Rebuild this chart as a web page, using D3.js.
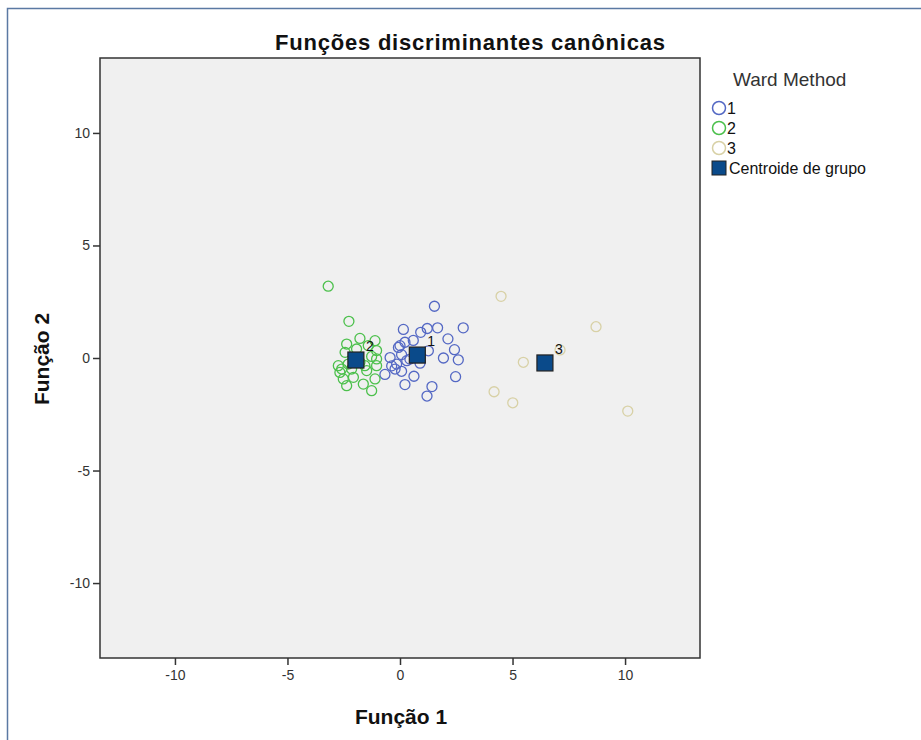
<!DOCTYPE html>
<html>
<head>
<meta charset="utf-8">
<script src="https://cdn.jsdelivr.net/npm/d3@7"></script>
<style>
  body { margin: 0; background: #fff; }
  svg { display: block; font-family: "Liberation Sans", Arial, sans-serif; }
</style>
</head>
<body>
<div id="chart"></div>
<script>
// pontos (Função 1, Função 2)
const grupo1 = [
  [1.53, 2.30], [2.81, 1.34], [0.15, 1.27], [0.92, 1.14], [1.21, 1.31], [1.67, 1.34],
  [2.13, 0.85], [2.42, 0.37], [2.59, -0.08], [1.93, 0.0], [2.47, -0.83], [1.42, -1.27],
  [1.20, -1.69], [0.22, -1.18], [0.62, -0.81], [-0.67, -0.73], [-0.44, 0.02], [0.0, 0.55],
  [0.22, 0.70], [0.59, 0.78], [-0.07, 0.47], [0.07, 0.15], [-0.15, -0.27], [0.30, -0.12],
  [-0.22, -0.49], [0.07, -0.59], [-0.37, -0.35], [1.26, 0.32], [0.89, -0.23], [0.44, -0.05]
];
const grupo2 = [
  [-3.19, 3.19], [-2.27, 1.63], [-1.78, 0.87], [-1.11, 0.77], [-2.37, 0.62], [-1.04, 0.33],
  [-2.44, 0.25], [-1.26, 0.07], [-2.74, -0.34], [-1.04, -0.34], [-2.67, -0.64], [-2.15, -0.49],
  [-1.48, -0.56], [-2.52, -0.93], [-2.07, -0.86], [-1.63, -1.16], [-1.11, -0.93], [-2.37, -1.23],
  [-1.26, -1.45], [-2.59, -0.49], [-1.78, -0.19], [-1.41, 0.55], [-1.04, -0.04], [-1.93, 0.40],
  [-2.30, -0.27], [-1.56, -0.34]
];
const grupo3 = [
  [4.49, 2.74], [8.71, 1.39], [5.48, -0.19], [4.18, -1.50], [5.01, -1.99], [10.12, -2.36], [7.11, 0.36]
];
const centroides = [[0.77, 0.13], [-1.96, -0.09], [6.44, -0.22]];
const centroideLabels = ["1", "2", "3"];
const grupos = ["1", "2", "3"];
const ticks = [-10, -5, 0, 5, 10];

const cores = ["#5468c4", "#4cc04c", "#d8d1a6"];

const W = 921, H = 740;
const margin = {left: 100, top: 58};
const size = 600;

const svg = d3.select("#chart").append("svg")
  .attr("width", W).attr("height", H);

// moldura
svg.append("path")
  .attr("d", `M7.5,${H} V8.5 H${W}`)
  .attr("fill", "none").attr("stroke", "#5b79a3").attr("stroke-width", 1.5);

const x = d3.scaleLinear().domain([-13.33, 13.33]).range([margin.left, margin.left + size]);
const y = d3.scaleLinear().domain([-13.33, 13.33]).range([margin.top + size, margin.top]);

svg.append("rect")
  .attr("x", margin.left).attr("y", margin.top)
  .attr("width", size).attr("height", size)
  .attr("fill", "#f0f0f0").attr("stroke", "#333").attr("stroke-width", 1.5);

const fmt = d => String(d);
const xAxis = svg.append("g")
  .attr("transform", `translate(0,${margin.top + size})`)
  .call(d3.axisBottom(x).tickValues(ticks).tickFormat(fmt).tickSize(7).tickPadding(5));
const yAxis = svg.append("g")
  .attr("transform", `translate(${margin.left},0)`)
  .call(d3.axisLeft(y).tickValues(ticks).tickFormat(fmt).tickSize(7).tickPadding(3));

[xAxis, yAxis].forEach(a => {
  a.select(".domain").remove();
  a.selectAll("line").attr("stroke", "#333").attr("stroke-width", 1.5);
  a.selectAll("text").attr("fill", "#333").style("font-size", "14px")
    .style("font-family", "'Liberation Sans', Arial, sans-serif");
});

// pontos
[grupo1, grupo2, grupo3].forEach((g, i) => {
  svg.append("g").selectAll("circle")
    .data(g)
    .join("circle")
      .attr("cx", d => x(d[0]))
      .attr("cy", d => y(d[1]))
      .attr("r", 5)
      .attr("fill", "none")
      .attr("stroke", cores[i])
      .attr("stroke-width", 1.3);
});

// centroides
svg.append("g").selectAll("rect")
  .data(centroides)
  .join("rect")
    .attr("x", d => x(d[0]) - 8)
    .attr("y", d => y(d[1]) - 8)
    .attr("width", 16).attr("height", 16)
    .attr("fill", "#0a4a8a")
    .attr("stroke", "#222").attr("stroke-width", 1.2);

svg.append("g").selectAll("text")
  .data(centroides)
  .join("text")
    .attr("x", d => x(d[0]) + 10)
    .attr("y", d => y(d[1]) - 9)
    .attr("font-size", 14).attr("fill", "#111")
    .text((d, i) => centroideLabels[i]);

// títulos
svg.append("text")
  .attr("x", 470).attr("y", 50)
  .attr("text-anchor", "middle")
  .attr("font-size", 22).attr("font-weight", "bold").attr("fill", "#111")
  .attr("textLength", 390).attr("lengthAdjust", "spacing")
  .text("Funções discriminantes canônicas");

svg.append("text")
  .attr("x", 401).attr("y", 724)
  .attr("text-anchor", "middle")
  .attr("font-size", 21).attr("font-weight", "bold").attr("fill", "#111")
  .text("Função 1");

svg.append("text")
  .attr("transform", "translate(49,359) rotate(-90)")
  .attr("text-anchor", "middle")
  .attr("font-size", 21).attr("font-weight", "bold").attr("fill", "#111")
  .text("Função 2");

// legenda
const leg = svg.append("g");
leg.append("text")
  .attr("x", 733).attr("y", 86)
  .attr("font-size", 19).attr("fill", "#333")
  .text("Ward Method");

grupos.forEach((g, i) => {
  const cy = 108 + i * 20;
  leg.append("circle")
    .attr("cx", 719).attr("cy", cy).attr("r", 6.5)
    .attr("fill", "none").attr("stroke", cores[i]).attr("stroke-width", 1.5);
  leg.append("text")
    .attr("x", 727).attr("y", cy + 6)
    .attr("font-size", 16).attr("fill", "#111")
    .text(g);
});
leg.append("rect")
  .attr("x", 712).attr("y", 161).attr("width", 14).attr("height", 14)
  .attr("fill", "#0a4a8a").attr("stroke", "#222").attr("stroke-width", 1);
leg.append("text")
  .attr("x", 729).attr("y", 174)
  .attr("font-size", 16).attr("fill", "#111")
  .text("Centroide de grupo");
</script>
</body>
</html>
